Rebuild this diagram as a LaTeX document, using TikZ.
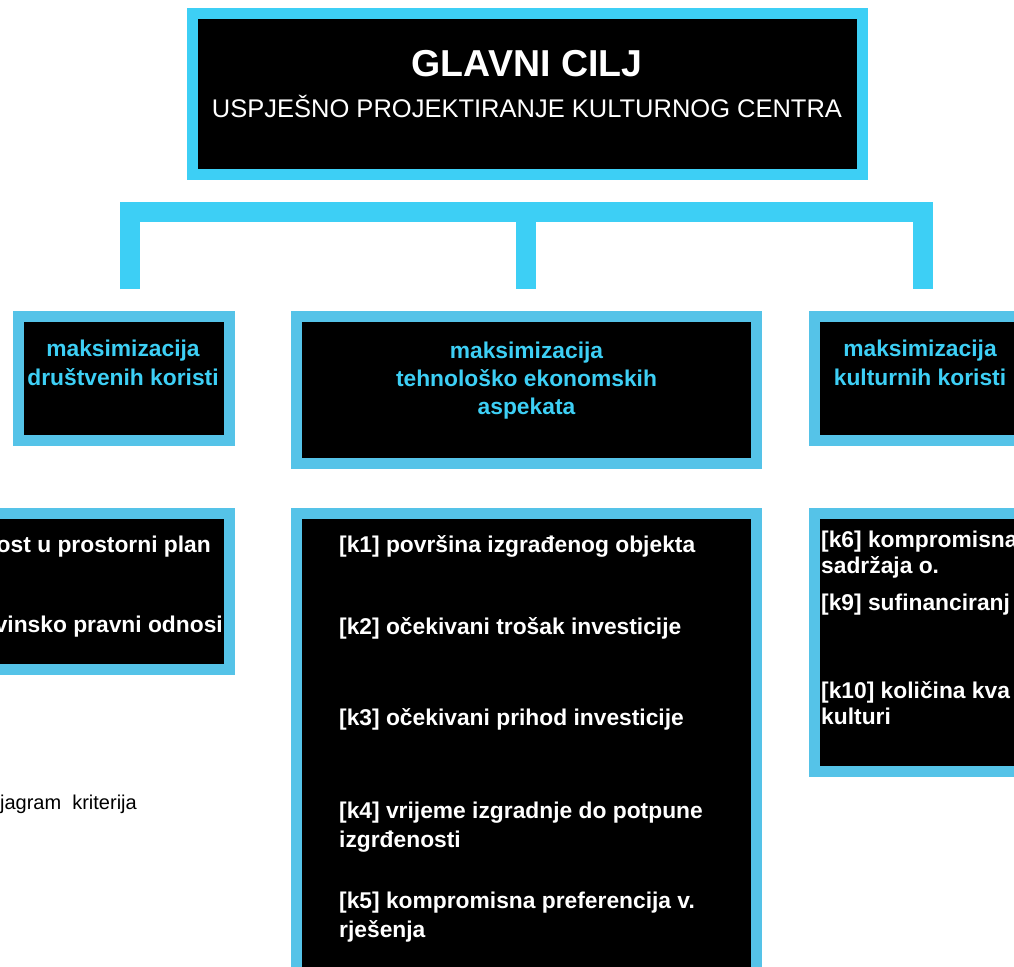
\documentclass[tikz,border=0pt]{standalone}
\usepackage{fontspec}
\setmainfont{Liberation Sans}

\definecolor{ciljcyan}{RGB}{61,207,245}
\definecolor{kutijacyan}{RGB}{85,195,232}

\tikzset{
  okvir/.style={draw=kutijacyan, fill=black, line width=11pt, inner sep=0pt},
  naslov/.style={font=\fontsize{22.8}{28.5}\selectfont\bfseries, text=ciljcyan, align=center, inner sep=0pt, anchor=base},
  kriterij/.style={font=\fontsize{22.8}{29}\selectfont\bfseries, text=white, align=left, inner sep=0pt, anchor=base west},
  spojnica/.style={draw=ciljcyan, line width=20pt, line cap=butt, line join=miter}
}

\begin{document}
\begin{tikzpicture}[x=1pt,y=1pt,yscale=-1,xscale=1]
\useasboundingbox (0,0) rectangle (1014,966);
\clip (0,0) rectangle (1014,966);

%Shape: Rectangle [glavni cilj]
\node [okvir, draw=ciljcyan, minimum width=670pt, minimum height=161pt] (cilj) at (527,94) {};
% Text Node
\node [font=\fontsize{37.5}{40}\selectfont\bfseries, text=white, inner sep=0pt, anchor=base] (glavni) at (527,77) {GLAVNI CILJ};
% Text Node
\node [font=\fontsize{25.5}{28}\selectfont, text=white, inner sep=0pt, anchor=base] (uspjesno) at (527,117) {USPJEŠNO PROJEKTIRANJE KULTURNOG CENTRA};

%Connector: bracket
\coordinate (vrhL) at (129.5,212);
\coordinate (vrhS) at (526,212);
\coordinate (vrhD) at (922.5,212);
\coordinate (dnoL) at (129.5,289);
\coordinate (dnoS) at (526,289);
\coordinate (dnoD) at (922.5,289);
\draw [spojnica] (dnoL) -- (vrhL) -- (vrhD) -- (dnoD);
\draw [spojnica] (vrhS) -- (dnoS);

%Shape: Rectangle [podciljevi]
\node [okvir, minimum width=211pt, minimum height=124pt] (drustvo) at (124,378.5) {};
\node [okvir, minimum width=460pt, minimum height=147pt] (tehno) at (526.5,390) {};
\node [okvir, minimum width=211pt, minimum height=124pt] (kultura) at (920,378.5) {};
% Text Node (base = last line)
\node [naslov] (drustvoT) at (123,385) {maksimizacija\\društvenih koristi};
% Text Node
\node [naslov, font=\fontsize{22.8}{28}\selectfont\bfseries] (tehnoT) at (526.5,414) {maksimizacija\\tehnološko ekonomskih\\aspekata};
% Text Node
\node [naslov] (kulturaT) at (920,385) {maksimizacija\\kulturnih koristi};

%Shape: Rectangle [kriteriji]
\node [okvir, minimum width=429.5pt, minimum height=156pt] (krDrustvo) at (14.75,591.5) {};
\node [okvir, minimum width=460pt, minimum height=486.5pt] (krTehno) at (526.5,756.75) {};
\node [okvir, minimum width=385.5pt, minimum height=258pt] (krKultura) at (1007.25,642.5) {};

% Text Node
\node [kriterij, anchor=base east] (k7) at (211,552) {ost u prostorni plan};
\node [kriterij, anchor=base east] (k8) at (223,632) {vinsko pravni odnosi};
% Text Node
\node [kriterij] (k1) at (339,552) {[k1] površina izgrađenog objekta};
\node [kriterij] (k2) at (339,634) {[k2] očekivani trošak investicije};
\node [kriterij] (k3) at (339,725) {[k3] očekivani prihod investicije};
\node [kriterij] (k4) at (339,847) {[k4] vrijeme izgradnje do potpune\\izgrđenosti};
\node [kriterij] (k5) at (339,937) {[k5] kompromisna preferencija v.\\rješenja};
% Text Node
\node [kriterij, font=\fontsize{22.8}{26}\selectfont\bfseries] (k6) at (821,573) {[k6] kompromisna\\sadržaja o.};
\node [kriterij] (k9) at (821,610) {[k9] sufinanciranj};
\node [kriterij, font=\fontsize{22.8}{26}\selectfont\bfseries] (k10) at (821,724) {[k10] količina kva\\kulturi};

% Text Node
\node [font=\fontsize{20}{24}\selectfont, inner sep=0pt, anchor=base east] (dijagram) at (137,809) {jagram\ \ kriterija};

\end{tikzpicture}
\end{document}
